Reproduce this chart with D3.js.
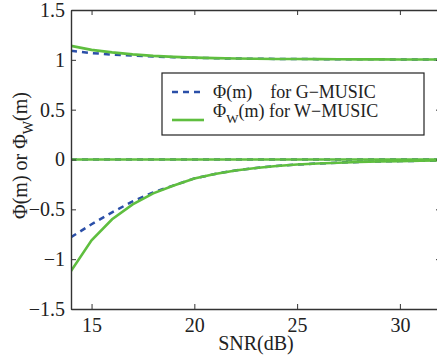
<!DOCTYPE html>
<html>
<head>
<meta charset="utf-8">
<script src="https://cdn.jsdelivr.net/npm/d3@7"></script>
<style>
  body { margin: 0; background: #fff; }
  svg { display: block; }
  svg text { font-family: "Liberation Serif", "Times New Roman", Times, "DejaVu Serif", serif; fill: #222; }
</style>
</head>
<body>
<div id="chart"></div>
<script>
// SNR values (dB)
const snr = [14, 15, 16, 17, 18, 19, 20, 21, 22, 23, 24, 25, 26, 27, 28, 29, 30, 31, 32];

// G-MUSIC: Phi(m), three branches
const gUpper = [1.09, 1.068, 1.053, 1.042, 1.033, 1.026, 1.02, 1.016, 1.013, 1.011, 1.009, 1.008, 1.007, 1.006, 1.005, 1.005, 1.004, 1.004, 1.003];
const gZero = [0, 0, 0, 0, 0, 0, 0, 0, 0, 0, 0, 0, 0, 0, 0, 0, 0, 0, 0];
const gLower = [-0.78, -0.65, -0.53, -0.42, -0.33, -0.26, -0.19, -0.145, -0.11, -0.085, -0.065, -0.05, -0.04, -0.032, -0.025, -0.02, -0.016, -0.013, -0.01];

// W-MUSIC: Phi_W(m), three branches
const wUpper = [1.14, 1.1, 1.075, 1.055, 1.04, 1.03, 1.022, 1.017, 1.013, 1.011, 1.009, 1.008, 1.007, 1.006, 1.005, 1.005, 1.004, 1.004, 1.003];
const wZero = [0, 0, 0, 0, 0, 0, 0, 0, 0, 0, 0, 0, 0, 0, 0, 0, 0, 0, 0];
const wLower = [-1.12, -0.81, -0.6, -0.45, -0.34, -0.26, -0.19, -0.145, -0.11, -0.085, -0.065, -0.05, -0.04, -0.032, -0.025, -0.02, -0.016, -0.013, -0.01];

const xTicks = [15, 20, 25, 30];
const yTicks = [-1.5, -1, -0.5, 0, 0.5, 1, 1.5];

const blue = "#2b4fa8";
const green = "#5fbe3f";
const serif = '"Liberation Serif", "Times New Roman", Times, "DejaVu Serif", serif';

const margin = { top: 10, left: 71 };
const width = 370;
const height = 299;

const svg = d3
  .select("#chart")
  .append("svg")
  .attr("width", 437)
  .attr("height", 358)
  .style("font-family", serif);

const g = svg.append("g").attr("transform", `translate(${margin.left}, ${margin.top})`);

const x = d3.scaleLinear().domain([14, 32]).range([0, width]);
const y = d3.scaleLinear().domain([-1.5, 1.5]).range([height, 0]);

// clip the curves to the axes box
g.append("clipPath").attr("id", "clip")
  .append("rect").attr("width", width).attr("height", height);

const line = d3.line()
  .x((d, i) => x(snr[i]))
  .y((d) => y(d));

const plot = g.append("g").attr("clip-path", "url(#clip)");

// G-MUSIC first (dashed blue), W-MUSIC on top (solid green)
[gUpper, gZero, gLower].forEach((s) => {
  plot.append("path")
    .attr("d", line(s))
    .attr("fill", "none")
    .attr("stroke", blue)
    .attr("stroke-width", 2.5)
    .attr("stroke-dasharray", "6,5");
});
[wUpper, wZero, wLower].forEach((s) => {
  plot.append("path")
    .attr("d", line(s))
    .attr("fill", "none")
    .attr("stroke", green)
    .attr("stroke-width", 2.6);
});

// axes: ticks point inward, mirrored on top and right
const fmt = (d) => String(d).replace("-", "\u2212");

const axBottom = g.append("g")
  .attr("transform", `translate(0, ${height})`)
  .call(d3.axisBottom(x).tickValues(xTicks).tickSizeInner(-5).tickSizeOuter(0).tickPadding(9).tickFormat(fmt));
const axLeft = g.append("g")
  .call(d3.axisLeft(y).tickValues(yTicks).tickSizeInner(-5).tickSizeOuter(0).tickPadding(6).tickFormat(fmt));
const axTop = g.append("g")
  .call(d3.axisTop(x).tickValues(xTicks).tickSizeInner(-5).tickSizeOuter(0).tickFormat(""));
const axRight = g.append("g")
  .attr("transform", `translate(${width}, 0)`)
  .call(d3.axisRight(y).tickValues(yTicks).tickSizeInner(-5).tickSizeOuter(0).tickFormat(""));

[axBottom, axLeft, axTop, axRight].forEach((a) => {
  a.attr("font-family", serif).attr("font-size", 20);
  a.select(".domain").attr("stroke", "#333").attr("stroke-width", 1.4);
  a.selectAll(".tick line").attr("stroke", "#333").attr("stroke-width", 1);
  a.selectAll(".tick text").attr("fill", "#222");
});

// axis labels
svg.append("text")
  .attr("x", margin.left + width / 2)
  .attr("y", 350)
  .attr("text-anchor", "middle")
  .style("font-size", "20px")
  .text("SNR(dB)");

const yl = svg.append("text")
  .attr("transform", `translate(27, ${margin.top + height / 2 - 4}) rotate(-90)`)
  .attr("text-anchor", "middle")
  .style("font-size", "20px");
yl.append("tspan").text("\u03A6(m) or \u03A6");
yl.append("tspan").attr("dy", 6).style("font-size", "14px").text("W");
yl.append("tspan").attr("dy", -6).text("(m)");

// legend
const legend = svg.append("g").attr("transform", "translate(162, 73)");
legend.append("rect")
  .attr("width", 262)
  .attr("height", 62)
  .attr("fill", "#fff")
  .attr("stroke", "#222")
  .attr("stroke-width", 1.2);

legend.append("line")
  .attr("x1", 10).attr("x2", 40).attr("y1", 19).attr("y2", 19)
  .attr("stroke", blue).attr("stroke-width", 2.5).attr("stroke-dasharray", "6,5");
legend.append("line")
  .attr("x1", 10).attr("x2", 42).attr("y1", 47).attr("y2", 47)
  .attr("stroke", green).attr("stroke-width", 2.6);

legend.append("text")
  .attr("x", 51).attr("y", 25)
  .style("font-size", "18px")
  .attr("xml:space", "preserve")
  .text("\u03A6(m)    for G\u2212MUSIC");

const l2 = legend.append("text")
  .attr("x", 51).attr("y", 44)
  .style("font-size", "18px");
l2.append("tspan").text("\u03A6");
l2.append("tspan").attr("dy", 6).style("font-size", "13px").text("W");
l2.append("tspan").attr("dy", -6).text("(m) for W\u2212MUSIC");
</script>
</body>
</html>
